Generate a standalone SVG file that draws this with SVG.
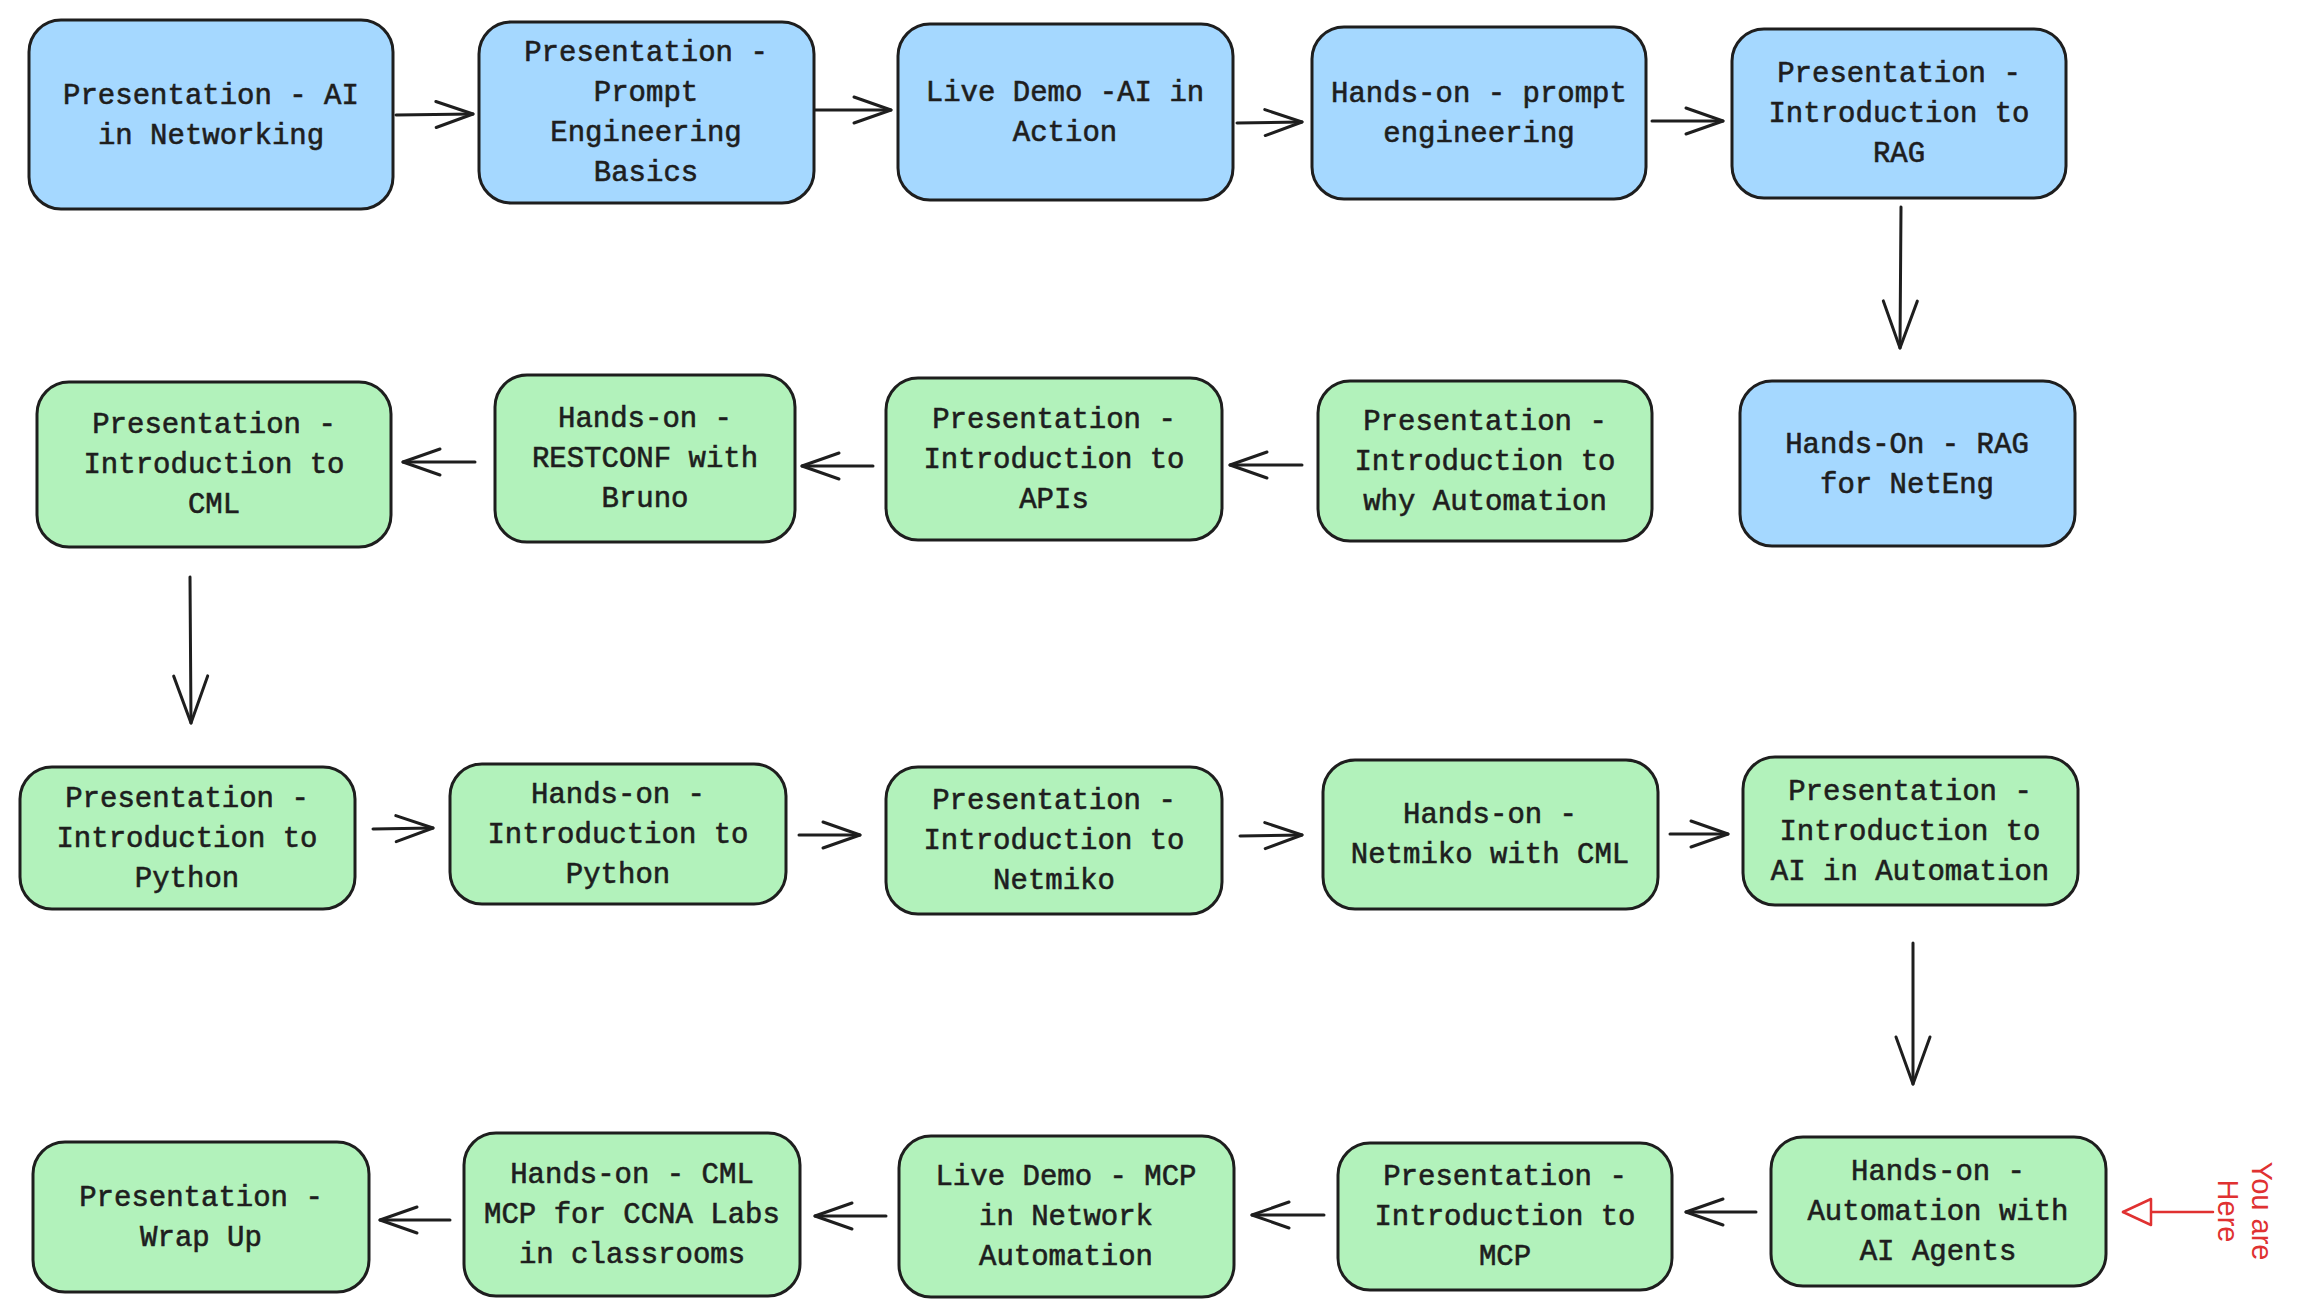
<svg xmlns="http://www.w3.org/2000/svg" width="2298" height="1316" viewBox="0 0 2298 1316">
<style>
  .box rect { stroke: #1e1e1e; stroke-width: 3; }
  .b rect { fill: #a5d8ff; }
  .g rect { fill: #b2f2bb; }
  .box text { font-family: "Liberation Mono", "DejaVu Sans Mono", monospace; font-size: 29px; fill: #1e1e1e; stroke: #1e1e1e; stroke-width: 0.6; text-anchor: middle; }
  .conn line { stroke: #1e1e1e; stroke-width: 3; stroke-linecap: round; fill: none; }
  .red { font-family: "Liberation Sans", Arial, sans-serif; font-size: 29px; fill: #e03131; text-anchor: middle; }
</style>
<defs>
  <marker id="ah" markerUnits="userSpaceOnUse" markerWidth="50" markerHeight="40" viewBox="0 0 50 40" refX="40" refY="20" orient="auto">
    <path d="M3,7 L40,20 L3,33" fill="none" stroke="#1e1e1e" stroke-width="3" stroke-linecap="round" stroke-linejoin="round"/>
  </marker>
  <marker id="av" markerUnits="userSpaceOnUse" markerWidth="60" markerHeight="44" viewBox="0 0 60 44" refX="50" refY="22" orient="auto">
    <path d="M3,5 L50,22 L3,39" fill="none" stroke="#1e1e1e" stroke-width="3" stroke-linecap="round" stroke-linejoin="round"/>
  </marker>
  <marker id="ar" markerUnits="userSpaceOnUse" markerWidth="40" markerHeight="34" viewBox="0 0 40 34" refX="32" refY="17" orient="auto">
    <path d="M4,4 L32,17 L4,30 Z" fill="#ffffff" stroke="#e03131" stroke-width="2.5" stroke-linejoin="round"/>
  </marker>
</defs>

<g class="conn">
  <line x1="396" y1="115" x2="473" y2="114" marker-end="url(#ah)"/>
  <line x1="815" y1="110" x2="891" y2="110" marker-end="url(#ah)"/>
  <line x1="1237" y1="123" x2="1302" y2="122" marker-end="url(#ah)"/>
  <line x1="1652" y1="121" x2="1723" y2="121" marker-end="url(#ah)"/>
  <line x1="1901" y1="207" x2="1900" y2="348" marker-end="url(#av)"/>
  <line x1="1302" y1="465" x2="1230" y2="465" marker-end="url(#ah)"/>
  <line x1="873" y1="466" x2="802" y2="466" marker-end="url(#ah)"/>
  <line x1="475" y1="462" x2="403" y2="462" marker-end="url(#ah)"/>
  <line x1="190" y1="577" x2="191" y2="723" marker-end="url(#av)"/>
  <line x1="373" y1="829" x2="433" y2="828" marker-end="url(#ah)"/>
  <line x1="799" y1="835" x2="860" y2="835" marker-end="url(#ah)"/>
  <line x1="1240" y1="836" x2="1302" y2="835" marker-end="url(#ah)"/>
  <line x1="1670" y1="834" x2="1728" y2="834" marker-end="url(#ah)"/>
  <line x1="1913" y1="943" x2="1913" y2="1084" marker-end="url(#av)"/>
  <line x1="1756" y1="1212" x2="1686" y2="1212" marker-end="url(#ah)"/>
  <line x1="1324" y1="1215" x2="1252" y2="1215" marker-end="url(#ah)"/>
  <line x1="886" y1="1216" x2="815" y2="1216" marker-end="url(#ah)"/>
  <line x1="450" y1="1220" x2="380" y2="1220" marker-end="url(#ah)"/>
  <line x1="2213" y1="1212" x2="2123" y2="1212" marker-end="url(#ar)" style="stroke:#e03131;stroke-width:2.5"/>
</g>

<g id="n1" class="box b"><rect x="29" y="20" width="364" height="189" rx="32"/>
  <text><tspan x="211" y="104">Presentation - AI</tspan><tspan x="211" y="144">in Networking</tspan></text></g>
<g id="n2" class="box b"><rect x="479" y="22" width="335" height="181" rx="32"/>
  <text><tspan x="646" y="61">Presentation -</tspan><tspan x="646" y="101">Prompt</tspan><tspan x="646" y="141">Engineering</tspan><tspan x="646" y="181">Basics</tspan></text></g>
<g id="n3" class="box b"><rect x="898" y="24" width="335" height="176" rx="32"/>
  <text><tspan x="1065" y="101">Live Demo -AI in</tspan><tspan x="1065" y="141">Action</tspan></text></g>
<g id="n4" class="box b"><rect x="1312" y="27" width="334" height="172" rx="32"/>
  <text><tspan x="1479" y="102">Hands-on - prompt</tspan><tspan x="1479" y="142">engineering</tspan></text></g>
<g id="n5" class="box b"><rect x="1732" y="29" width="334" height="169" rx="32"/>
  <text><tspan x="1899" y="82">Presentation -</tspan><tspan x="1899" y="122">Introduction to</tspan><tspan x="1899" y="162">RAG</tspan></text></g>
<g id="n6" class="box b"><rect x="1740" y="381" width="335" height="165" rx="32"/>
  <text><tspan x="1907" y="453">Hands-On - RAG</tspan><tspan x="1907" y="493">for NetEng</tspan></text></g>
<g id="n7" class="box g"><rect x="1318" y="381" width="334" height="160" rx="32"/>
  <text><tspan x="1485" y="430">Presentation -</tspan><tspan x="1485" y="470">Introduction to</tspan><tspan x="1485" y="510">why Automation</tspan></text></g>
<g id="n8" class="box g"><rect x="886" y="378" width="336" height="162" rx="32"/>
  <text><tspan x="1054" y="428">Presentation -</tspan><tspan x="1054" y="468">Introduction to</tspan><tspan x="1054" y="508">APIs</tspan></text></g>
<g id="n9" class="box g"><rect x="495" y="375" width="300" height="167" rx="32"/>
  <text><tspan x="645" y="427">Hands-on -</tspan><tspan x="645" y="467">RESTCONF with</tspan><tspan x="645" y="507">Bruno</tspan></text></g>
<g id="n10" class="box g"><rect x="37" y="382" width="354" height="165" rx="32"/>
  <text><tspan x="214" y="433">Presentation -</tspan><tspan x="214" y="473">Introduction to</tspan><tspan x="214" y="513">CML</tspan></text></g>
<g id="n11" class="box g"><rect x="20" y="767" width="335" height="142" rx="32"/>
  <text><tspan x="187" y="807">Presentation -</tspan><tspan x="187" y="847">Introduction to</tspan><tspan x="187" y="887">Python</tspan></text></g>
<g id="n12" class="box g"><rect x="450" y="764" width="336" height="140" rx="32"/>
  <text><tspan x="618" y="803">Hands-on -</tspan><tspan x="618" y="843">Introduction to</tspan><tspan x="618" y="883">Python</tspan></text></g>
<g id="n13" class="box g"><rect x="886" y="767" width="336" height="147" rx="32"/>
  <text><tspan x="1054" y="809">Presentation -</tspan><tspan x="1054" y="849">Introduction to</tspan><tspan x="1054" y="889">Netmiko</tspan></text></g>
<g id="n14" class="box g"><rect x="1323" y="760" width="335" height="149" rx="32"/>
  <text><tspan x="1490" y="823">Hands-on -</tspan><tspan x="1490" y="863">Netmiko with CML</tspan></text></g>
<g id="n15" class="box g"><rect x="1743" y="757" width="335" height="148" rx="32"/>
  <text><tspan x="1910" y="800">Presentation -</tspan><tspan x="1910" y="840">Introduction to</tspan><tspan x="1910" y="880">AI in Automation</tspan></text></g>
<g id="n16" class="box g"><rect x="1771" y="1137" width="335" height="149" rx="32"/>
  <text><tspan x="1938" y="1180">Hands-on -</tspan><tspan x="1938" y="1220">Automation with</tspan><tspan x="1938" y="1260">AI Agents</tspan></text></g>
<g id="n17" class="box g"><rect x="1338" y="1143" width="334" height="147" rx="32"/>
  <text><tspan x="1505" y="1185">Presentation -</tspan><tspan x="1505" y="1225">Introduction to</tspan><tspan x="1505" y="1265">MCP</tspan></text></g>
<g id="n18" class="box g"><rect x="899" y="1136" width="335" height="161" rx="32"/>
  <text><tspan x="1066" y="1185">Live Demo - MCP</tspan><tspan x="1066" y="1225">in Network</tspan><tspan x="1066" y="1265">Automation</tspan></text></g>
<g id="n19" class="box g"><rect x="464" y="1133" width="336" height="163" rx="32"/>
  <text><tspan x="632" y="1183">Hands-on - CML</tspan><tspan x="632" y="1223">MCP for CCNA Labs</tspan><tspan x="632" y="1263">in classrooms</tspan></text></g>
<g id="n20" class="box g"><rect x="33" y="1142" width="336" height="150" rx="32"/>
  <text><tspan x="201" y="1206">Presentation -</tspan><tspan x="201" y="1246">Wrap Up</tspan></text></g>

<g id="you-are-here">
  <text class="red" transform="translate(2252,1211) rotate(90)"><tspan x="0" y="0">You are</tspan><tspan x="0" y="34">Here</tspan></text>
</g>
</svg>
